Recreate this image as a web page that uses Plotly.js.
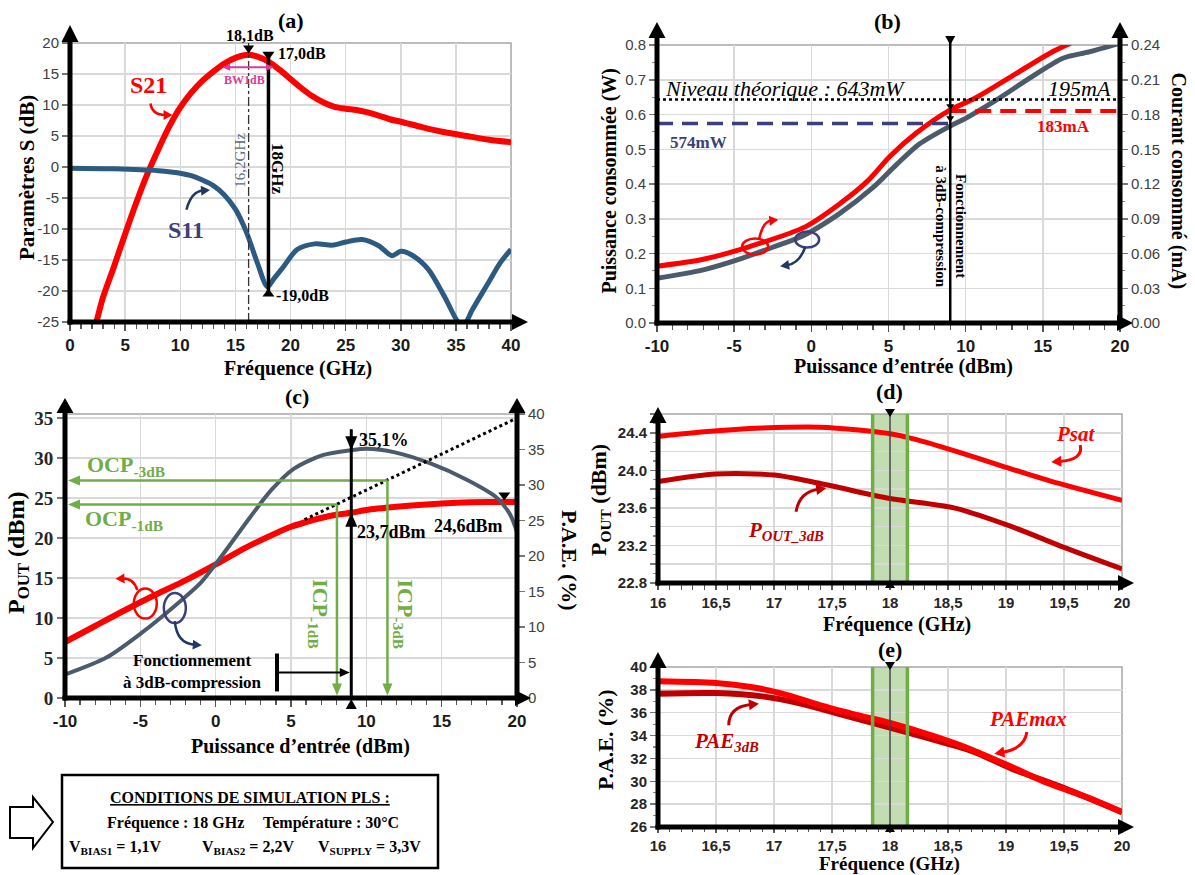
<!DOCTYPE html>
<html lang="fr"><head><meta charset="utf-8">
<script src="https://cdn.plot.ly/plotly-3.0.1.min.js"></script>
<style>html,body{margin:0;padding:0;background:#fff;}#chart{width:1195px;height:875px;}</style>
</head><body><div id="chart"></div>
<script>
// ================= DATA =================
// (a) S-parameters vs frequency (GHz)
const freqS21 = [2.4,3,4,5,6,7,8,9,10,11,12,13,14,15,16.2,17,18,19,20,21,22,23,24,25,26,27,28,29,30,32,34,36,38,40];
const s21dB   = [-25,-21,-16,-10.8,-5.8,-1.2,2.8,6.5,9.6,12,13.9,15.4,16.7,17.6,18.1,17.8,17.0,15.7,14.2,12.7,11.4,10.4,9.7,9.4,9.2,8.8,8.3,7.7,7.3,6.4,5.6,5.0,4.4,4.0];
const freqS11 = [0,4,8,10,11,12,13,14,15,16,17,17.9,18.5,19.4,20.6,22.2,23.8,25,26.5,28,29.2,30,31,32.5,34,35.3,35.8,36.5,38,39,40];
const s11dB   = [-0.2,-0.3,-0.6,-1.0,-1.4,-2.1,-3.0,-4.5,-6.8,-10.5,-15.5,-19.3,-18.0,-16.0,-13.3,-12.4,-12.6,-12.1,-11.7,-12.7,-14.3,-13.6,-14.2,-16.5,-21.0,-25.2,-25.3,-23,-18.5,-15.5,-13.3];
const peakA = [16.2, 18.1];      // [GHz, dB]
const opA   = [18, 17.0, -19.0]; // [GHz, S21 dB, S11 dB]
const bwA   = [13.8, 18.5, 16.1];// [low GHz, high GHz, level dB]

// (b) consumption vs input power (dBm)
const pinPower  = [-10,-7,-4.5,-2.5,-0.5,1.8,4,5.5,7,9,10,12,14.3,16.3,18,20];
const powerW    = [0.129,0.153,0.186,0.218,0.252,0.314,0.39,0.455,0.515,0.567,0.589,0.642,0.709,0.762,0.78,0.805];
const pinCurrent= [-10,-7,-4,-0.4,1.9,3.6,5.1,6.8,9,10.6,13.1,15.6,16.8];
const currentA  = [0.049,0.055,0.066,0.083,0.1035,0.122,0.144,0.164,0.184,0.194,0.214,0.234,0.2415];
const levelsB   = [0.643, 0.574, 0.183, 9]; // theoretical W, W at 3dB, A at 3dB, Pin at 3dB

// (c) Pout and PAE vs input power (dBm)
const pinPout = [-10,-8,-6,-4,-2,0,2,4,5,6,7,8,9,10,12,14,16,18,20];
const poutDbm = [7.0,9.0,11.0,12.9,14.7,16.7,18.8,20.6,21.4,22.0,22.5,22.9,23.15,23.5,23.9,24.2,24.4,24.5,24.5];
const pinPae  = [-10,-7.25,-4.9,-2.7,-1,0.4,2.3,3.7,5.2,7.1,9,10,11.9,14.3,16.7,18.6,19.5,20];
const paePct  = [3.3,5.7,9.2,13.0,16.2,20.0,25.5,29.3,32.3,34.2,34.9,35.1,34.6,33.0,30.7,28.3,26.0,23.4];
const linExtrap = [5.9, 22.3, 20, 35.0];   // dotted linear extrapolation (x0,y0,x1,y1)
const cp1dB = [8.05, 24.2];                // ICP-1dB, OCP-1dB
const cp3dB = [11.4, 27.2];                // ICP-3dB, OCP-3dB
const opC   = [9, 34.9, 23.15];            // Pin, PAE %, Pout dBm

// (d) Pout vs frequency
const freqPsat = [16,16.4,16.9,17.4,17.73,18,18.22,18.55,18.98,19.37,20];
const psatDbm  = [24.36,24.41,24.45,24.46,24.43,24.39,24.33,24.21,24.04,23.89,23.68];
const freqP3   = [16,16.5,17,17.4,18,18.55,19.05,19.5,20];
const pout3Dbm = [23.88,23.96,23.95,23.86,23.70,23.60,23.40,23.18,22.95];
// (e) PAE vs frequency
const freqPaeMax = [16,16.5,16.8,17.07,17.4,17.73,18,18.39,18.72,19.05,19.37,19.7,20];
const paeMaxPct  = [38.75,38.6,38.25,37.67,36.65,35.77,35.1,33.9,32.7,31.25,29.8,28.6,27.3];
const freqPae3   = [16,16.5,16.9,17.23,17.56,18,18.39,18.72,19.05,19.5,20];
const pae3Pct    = [37.67,37.72,37.43,36.8,35.9,34.7,33.6,32.6,31.1,29.4,27.3];
const bandGHz    = [17.85, 18.15, 18];

// tick labels
const sTickVals   = [-25,-20,-15,-10,-5,0,5,10,15,20];
const sTickText   = ['-25','-20','-15','-10','-5','0','5','10','15','20'];
const pinTickVals = [-10,-5,0,5,10,15,20];
const pinTickText = ['-10','-5','0','5','10','15','20'];
const freqTickVals = [16,16.5,17,17.5,18,18.5,19,19.5,20];
const freqTickText = ['16','16,5','17','17,5','18','18,5','19','19,5','20'];
const poutTickVals = [22.8,23.0,23.2,23.4,23.6,23.8,24.0,24.2,24.4,24.6];
const poutTickText = ['22.8',' ','23.2',' ','23.6',' ','24.0',' ','24.4',' '];

// ================= STYLE / GEOMETRY =================
const SERIF='"Liberation Serif","Times New Roman",serif';
const SANS='"Liberation Sans",Arial,sans-serif';
const RED='#ff0000', DRED='#c00000', NAVY='#3b3f7a', DNAVY='#1f3864', SLATE='#4b5b6c', STEEL='#2c5a80', GREEN='#70ad47', MAG='#e2389b';
const GRID='#d9d9d9', FRAME='#a6a6a6';
const W=1195,H=875;
const PX=x=>x/W, PY=y=>1-y/H;
const G={
 a:{x0:70,x1:511,yb:322,yt:43,xr:[0,40],yr:[-25,20]},
 b:{x0:657,x1:1120,yb:323,yt:45,xr:[-10,20],yr:[0,0.8],yr2:[0,0.24]},
 c:{x0:65,x1:517,yb:698,yt:414,xr:[-10,20],yr:[0,35.5],yr2:[0,40]},
 d:{x0:658,x1:1122,yb:583,yt:414,xr:[16,20],yr:[22.8,24.6]},
 e:{x0:658,x1:1122,yb:827,yt:667,xr:[16,20],yr:[26,40]}
};
const fx=(g,v)=>g.x0+(v-g.xr[0])/(g.xr[1]-g.xr[0])*(g.x1-g.x0);
const fy=(g,v,r)=>{r=r||g.yr;return g.yb-(v-r[0])/(r[1]-r[0])*(g.yb-g.yt);};
const S=[],A=[];
function line(x0,y0,x1,y1,color,width,dash){S.push({type:'line',xref:'paper',yref:'paper',x0:PX(x0),y0:PY(y0),x1:PX(x1),y1:PY(y1),line:{color:color,width:width,dash:dash||'solid'}});}
function poly(pts,fill,lc,lw){S.push({type:'path',xref:'paper',yref:'paper',path:'M '+pts.map(p=>PX(p[0]).toFixed(5)+','+PY(p[1]).toFixed(5)).join(' L ')+' Z',fillcolor:fill,line:{color:lc||fill,width:lw||0}});}
function head(tx,ty,ux,uy,len,hw,color){const bx=tx-ux*len,by=ty-uy*len,nx=-uy,ny=ux;poly([[tx,ty],[bx+nx*hw,by+ny*hw],[bx-nx*hw,by-ny*hw]],color);}
function arrow(x0,y0,x1,y1,color,width,len,hw){const d=Math.hypot(x1-x0,y1-y0),ux=(x1-x0)/d,uy=(y1-y0)/d;line(x0,y0,x1-ux*len*0.8,y1-uy*len*0.8,color,width);head(x1,y1,ux,uy,len,hw,color);}
function curve(x0,y0,cx,cy,x1,y1,color,width,len,hw){const d=Math.hypot(x1-cx,y1-cy),ux=(x1-cx)/d,uy=(y1-cy)/d;const ex=x1-ux*len*0.8,ey=y1-uy*len*0.8;S.push({type:'path',xref:'paper',yref:'paper',path:'M '+PX(x0).toFixed(5)+','+PY(y0).toFixed(5)+' Q '+PX(cx).toFixed(5)+','+PY(cy).toFixed(5)+' '+PX(ex).toFixed(5)+','+PY(ey).toFixed(5),line:{color:color,width:width}});head(x1,y1,ux,uy,len,hw,color);}
function ellipse(cx,cy,rx,ry,color,width){S.push({type:'circle',xref:'paper',yref:'paper',x0:PX(cx-rx),x1:PX(cx+rx),y0:PY(cy+ry),y1:PY(cy-ry),line:{color:color,width:width}});}
function txt(x,y,text,font,extra){A.push(Object.assign({xref:'paper',yref:'paper',x:PX(x),y:PY(y),text:text,showarrow:false,xanchor:'center',yanchor:'middle',font:font},extra||{}));}
const F=(size,color,weight,family,style)=>({size:size,color:color||'#000',weight:weight||'bold',family:family||SERIF,style:style||'normal'});
function frame(g){S.push({type:'rect',xref:'paper',yref:'paper',x0:PX(g.x0),x1:PX(g.x1),y0:PY(g.yb),y1:PY(g.yt),line:{color:FRAME,width:1.5},layer:'below'});}
function yAxisLine(x,g,tip,base){const top=Math.min(base,g.yt);line(x,g.yb+2.5,x,top,'#000',5);head(x,tip,0,-1,base-tip,8.5,'#000');}
function xAxisLine(g,tip){line(g.x0-2.5,g.yb,tip-15,g.yb,'#000',5);head(tip,g.yb,1,0,16,8,'#000');}
function band(g){const X=v=>fx(g,v);
 S.push({type:'rect',xref:'paper',yref:'paper',x0:PX(X(bandGHz[0])),x1:PX(X(bandGHz[1])),y0:PY(g.yb),y1:PY(g.yt),fillcolor:'rgba(112,173,71,0.42)',line:{width:0},layer:'below'});
 line(X(bandGHz[0]),g.yt,X(bandGHz[0]),g.yb,GREEN,3.5);
 line(X(bandGHz[1]),g.yt,X(bandGHz[1]),g.yb,GREEN,3.5);
 line(X(bandGHz[2]),g.yt,X(bandGHz[2]),g.yb,'#444',1.5);
 head(X(bandGHz[2]),g.yt+3,0,1,8,5,'#000');
 head(X(bandGHz[2]),g.yb-3,0,-1,8,5,'#000');
}

// ---------- (a) ----------
{const g=G.a,X=v=>fx(g,v),Y=v=>fy(g,v);
 frame(g);
 line(X(peakA[0]),g.yt,X(peakA[0]),g.yb,'#333',1.3,'dashdot');
 line(X(opA[0]),Y(18.0),X(opA[0]),Y(-20.6),'#000',3.5);
 head(X(opA[0]),Y(17.2),0,1,8.5,6,'#000');
 head(X(opA[0]),Y(-19.6),0,-1,8,6,'#000');
 head(X(peakA[0]),Y(18.3),0,1,8,5.5,'#000');
 line(X(bwA[0])+6,Y(bwA[2]),X(bwA[1])-6,Y(bwA[2]),MAG,2);
 head(X(bwA[0]),Y(bwA[2]),-1,0,8,3.5,MAG); head(X(bwA[1]),Y(bwA[2]),1,0,8,3.5,MAG);
 txt(X(16.3),Y(21.2),'18,1dB',F(16));
 txt(X(21.0),Y(18.3),'17,0dB',F(16));
 txt(X(21.1),Y(-20.8),'-19,0dB',F(16));
 txt(X(18.8),Y(-0.2),'18GHz',F(17),{textangle:90});
 txt(X(15.4),Y(1.15),'16,2GHz',F(15,'#5b6b85','normal'),{textangle:-90});
 txt(X(15.8),Y(14.1),'BW1dB',F(12,MAG));
 txt(X(7.1),Y(13.2),'S21',F(24,RED));
 curve(X(7.3),Y(10.25),X(7.45),Y(8.4),X(9.3),Y(8.4),RED,2.5,9,5);
 txt(X(10.56),Y(-10.1),'S11',F(24,NAVY));
 curve(X(10.56),Y(-6.9),X(11.0),Y(-3.94),X(12.7),Y(-3.7),DNAVY,2.5,9,5);
 txt(27,178,'Paramètres S (dB)',F(21),{textangle:-90});
 txt(X(20.65),368,'Fréquence (GHz)',F(20));
 txt(X(20),20,'(a)',F(22));
}
// ---------- (b) ----------
{const g=G.b,X=v=>fx(g,v),Y=v=>fy(g,v),Y2=v=>fy(g,v,g.yr2);
 frame(g);
 line(X(-10),Y(levelsB[0]),X(20),Y(levelsB[0]),'#000',2.5,'dot');
 line(X(-10),Y(levelsB[1]),X(levelsB[3]),Y(levelsB[1]),NAVY,3.5,'16px,9px');
 line(X(levelsB[3]),Y2(levelsB[2]),X(20),Y2(levelsB[2]),RED,4,'16px,9px');
 line(X(levelsB[3]),g.yb,X(levelsB[3]),37,'#000',2.5);
 head(X(levelsB[3]),45,0,1,9,5,'#000');
 head(X(levelsB[3]),Y(0.612),0,1,6,4,'#000');
 head(X(levelsB[3]),Y(0.578),0,1,6,4,'#000');
 txt(X(-9.6),Y(0.675),'Niveau théorique : 643mW',F(22,'#000','normal',SERIF,'italic'),{xanchor:'left'});
 txt(X(19.55),Y(0.675),'195mA',F(22,'#000','normal',SERIF,'italic'),{xanchor:'right'});
 txt(X(-7.3),Y(0.519),'574mW',F(17,NAVY));
 txt(X(16.36),Y(0.565),'183mA',F(17,RED));
 txt(X(levelsB[3]),Y(0.278),'Fonctionnement<br>à 3dB-compression',F(15),{textangle:90});
 ellipse(X(-3.64),Y(0.22),13,8,RED,2.5);
 curve(X(-3.39),Y(0.241),X(-3.14),Y(0.292),X(-2.14),Y(0.297),RED,2.5,9,5);
 ellipse(X(-0.27),Y(0.24),12,8,NAVY,2.5);
 curve(X(-0.4),Y(0.218),X(-0.77),Y(0.172),X(-2.02),Y(0.163),DNAVY,2.5,9,5);
 txt(610,Y(0.41),'Puissance consommée (W)',F(20),{textangle:-90});
 txt(1178,Y(0.41),'Courant consommé (mA)',F(20),{textangle:90});
 txt(X(5.96),366,'Puissance d’entrée (dBm)',F(20));
 txt(X(4.96),22,'(b)',F(22));
}
// ---------- (c) ----------
{const g=G.c,X=v=>fx(g,v),Y=v=>fy(g,v),Y2=v=>fy(g,v,g.yr2);
 frame(g);
 line(X(linExtrap[0]),Y(linExtrap[1]),X(linExtrap[2]),Y(linExtrap[3]),'#000',3,'dot');
 arrow(X(cp1dB[0]),Y(cp1dB[1]),X(-9.8),Y(cp1dB[1]),GREEN,2.5,12,5);
 arrow(X(cp1dB[0]),Y(cp1dB[1]),X(cp1dB[0]),Y(0.3),GREEN,2.5,12,5);
 arrow(X(cp3dB[0]),Y(cp3dB[1]),X(-9.8),Y(cp3dB[1]),GREEN,2.5,12,5);
 arrow(X(cp3dB[0]),Y(cp3dB[1]),X(cp3dB[0]),Y(0.3),GREEN,2.5,12,5);
 line(X(opC[0]),Y(33.6),X(opC[0]),g.yb,'#000',3);
 head(X(opC[0]),Y2(opC[1]),0,1,14,6,'#000');
 head(X(opC[0]),Y(opC[2]),0,-1,14,6,'#000');
 head(X(opC[0]),g.yb+1,0,-1,10,5.5,'#000');
 head(X(19.16),Y(24.7),0,1,8,6,'#000');
 line(X(4.07),Y(0.82),X(4.07),Y(5.56),'#000',4);
 arrow(X(4.07),Y(3.2),X(8.9),Y(3.2),'#000',2,10,4.5);
 txt(X(-5.94),Y(29.0),'OCP<sub>-3dB</sub>',F(22,GREEN));
 txt(X(-6.06),Y(22.2),'OCP<sub>-1dB</sub>',F(22,GREEN));
 txt(X(6.85),Y(10.5),'ICP<sub>-1dB</sub>',F(22,GREEN),{textangle:90});
 txt(X(12.47),Y(10.5),'ICP<sub>-3dB</sub>',F(22,GREEN),{textangle:90});
 txt(X(11.16),Y(32.2),'35,1%',F(18));
 txt(X(11.68),Y(20.7),'23,7dBm',F(18));
 txt(X(16.77),Y(21.5),'24,6dBm',F(18));
 txt(X(-1.51),Y(3.3),'Fonctionnement<br>à 3dB-compression',F(17));
 ellipse(X(-4.67),Y(11.8),11.5,15,RED,2.5);
 curve(X(-5.2),Y(13.5),X(-5.46),Y(15.0),X(-6.65),Y(14.9),RED,2.5,9,5);
 ellipse(X(-2.71),Y(11.24),11,15,NAVY,2.5);
 curve(X(-2.71),Y(9.6),X(-2.59),Y(6.8),X(-0.92),Y(6.6),DNAVY,2.5,9,5);
 txt(18,553,'P<sub>OUT</sub> (dBm)',F(24),{textangle:-90});
 txt(570,560,'P.A.E. (%)',F(22),{textangle:90});
 txt(300,746,'Puissance d’entrée (dBm)',F(20));
 txt(297,396,'(c)',F(22));
}
// ---------- (d) ----------
{const g=G.d,X=v=>fx(g,v),Y=v=>fy(g,v);
 frame(g); band(g);
 txt(X(19.6),Y(24.39),'Psat',F(21,RED,'bold',SERIF,'italic'));
 curve(X(19.64),Y(24.27),X(19.67),Y(24.11),X(19.39),Y(24.09),RED,3,10,5.5);
 txt(X(17.1),Y(23.35),'P<sub>OUT_3dB</sub>',F(21,DRED,'bold',SERIF,'italic'));
 curve(X(17.19),Y(23.56),X(17.22),Y(23.77),X(17.45),Y(23.81),DRED,3,10,5.5);
 txt(600,500,'P<sub>OUT</sub> (dBm)',F(22),{textangle:-90});
 txt(X(18.06),624,'Fréquence (GHz)',F(20));
 txt(X(18),392,'(d)',F(22));
}
// ---------- (e) ----------
{const g=G.e,X=v=>fx(g,v),Y=v=>fy(g,v);
 frame(g); band(g);
 txt(X(19.19),Y(35.48),'PAEmax',F(21,RED,'bold',SERIF,'italic'));
 curve(X(19.18),Y(34.31),X(19.16),Y(32.85),X(18.9),Y(32.42),RED,3,10,5.5);
 txt(X(16.59),Y(33.44),'PAE<sub>3dB</sub>',F(21,DRED,'bold',SERIF,'italic'));
 curve(X(16.61),Y(34.9),X(16.61),Y(36.5),X(16.87),Y(36.79),DRED,3,10,5.5);
 txt(605,740,'P.A.E. (%)',F(22),{textangle:-90});
 txt(X(18),864,'Fréquence (GHz)',F(19));
 txt(X(18),649,'(e)',F(22));
}
// axis lines with arrows (drawn after so they sit on top)
yAxisLine(G.a.x0,G.a,25,42); xAxisLine(G.a,528);
yAxisLine(G.b.x0,G.b,22,38); yAxisLine(G.b.x1,G.b,22,38); xAxisLine(G.b,1133);
yAxisLine(G.c.x0,G.c,398,413); yAxisLine(G.c.x1,G.c,398,413); xAxisLine(G.c,531);
yAxisLine(G.d.x0,G.d,407,423); xAxisLine(G.d,1134);
yAxisLine(G.e.x0,G.e,652,668); xAxisLine(G.e,1134);

// ---------- conditions box ----------
S.push({type:'rect',xref:'paper',yref:'paper',x0:PX(62),x1:PX(438),y0:PY(868),y1:PY(775),line:{color:'#000',width:2.5}});
poly([[10,807],[33,807],[33,797],[53,822],[33,848],[33,838],[10,838]],'#fff','#000',2);
txt(250,797,'<u>CONDITIONS DE SIMULATION PLS :</u>',F(16));
txt(175,823,'Fréquence : 18 GHz',F(16));
txt(331,823,'Température : 30°C',F(16));
txt(115,847,'V<sub>BIAS1</sub> = 1,1V',F(16));
txt(248,847,'V<sub>BIAS2</sub> = 2,2V',F(16));
txt(370,847,'V<sub>SUPPLY</sub> = 3,3V',F(16));

// ================= AXES =================
const dx=g=>[g.x0/W,g.x1/W], dy=g=>[1-g.yb/H,1-g.yt/H];
const TF_X={family:SANS,size:17,color:'#1a1a1a',weight:'bold'};
const TF_F={family:SANS,size:15,color:'#262626',weight:'bold'};
function xax(g,anchor,extra){return Object.assign({domain:dx(g),range:g.xr,anchor:anchor,showgrid:true,gridcolor:GRID,gridwidth:1.5,zeroline:false,showline:false,ticks:'outside',ticklen:8,tickwidth:1.5,tickcolor:'#555',tickfont:TF_X,fixedrange:true},extra);}
function yax(g,anchor,extra){return Object.assign({domain:dy(g),range:g.yr,anchor:anchor,showgrid:true,gridcolor:GRID,gridwidth:1.5,zeroline:false,showline:false,ticks:'outside',ticklen:7,tickwidth:1.5,tickcolor:'#777',tickfont:{family:SANS,size:15,color:'#404040'},fixedrange:true},extra);}
function yaxR(g,anchor,over,extra){return Object.assign({domain:dy(g),range:g.yr2,anchor:anchor,overlaying:over,side:'right',showgrid:false,zeroline:false,showline:false,ticks:'outside',ticklen:7,tickwidth:1.5,tickcolor:'#777',tickfont:{family:SANS,size:15,color:'#404040'},fixedrange:true},extra);}
const minorX=(d,t0)=>({tickmode:'linear',tick0:t0,dtick:d,ticks:'outside',ticklen:6,tickwidth:1.2,tickcolor:'#555',showgrid:false});
const minorY=(d,t0)=>({tickmode:'linear',tick0:t0,dtick:d,ticks:'outside',ticklen:4,tickwidth:1.2,tickcolor:'#888',showgrid:false});

const layout={width:W,height:H,margin:{l:0,r:0,t:0,b:0},paper_bgcolor:'#fff',plot_bgcolor:'rgba(0,0,0,0)',showlegend:false,hovermode:false,
 xaxis: xax(G.a,'y',{tick0:0,dtick:5,minor:minorX(1,0)}),
 yaxis: yax(G.a,'x',{tickmode:'array',tickvals:sTickVals,ticktext:sTickText}),
 xaxis2: xax(G.b,'y2',{tickmode:'array',tickvals:pinTickVals,ticktext:pinTickText,minor:minorX(1,-10)}),
 yaxis2: yax(G.b,'x2',{tick0:0,dtick:0.1,tickformat:'.1f',minor:minorY(0.05,0)}),
 yaxis3: yaxR(G.b,'x2','y2',{tick0:0,dtick:0.03,tickformat:'.2f',minor:minorY(0.015,0)}),
 xaxis3: xax(G.c,'y4',{tickmode:'array',tickvals:pinTickVals,ticktext:pinTickText,minor:minorX(1,-10)}),
 yaxis4: yax(G.c,'x3',{tick0:0,dtick:5,tickfont:{family:SERIF,size:19,color:'#262626',weight:'bold'}}),
 yaxis5: yaxR(G.c,'x3','y4',{tick0:0,dtick:5}),
 xaxis4: xax(G.d,'y6',{tickmode:'array',tickvals:freqTickVals,ticktext:freqTickText,ticklen:6,tickfont:TF_F,minor:minorX(0.1,16)}),
 yaxis6: yax(G.d,'x4',{tickmode:'array',tickvals:poutTickVals,ticktext:poutTickText,tickfont:TF_F,minor:minorY(0.1,22.8)}),
 xaxis5: xax(G.e,'y7',{tickmode:'array',tickvals:freqTickVals,ticktext:freqTickText,ticklen:5,tickfont:TF_F,minor:Object.assign(minorX(0.1,16),{ticklen:4})}),
 yaxis7: yax(G.e,'x5',{tick0:26,dtick:2,tickfont:TF_F,minor:minorY(1,26)}),
 shapes:S, annotations:A
};

const sp={shape:'spline',smoothing:0.8};
const traces=[
 {x:freqS21,y:s21dB,xaxis:'x',yaxis:'y',mode:'lines',line:Object.assign({color:RED,width:6},sp)},
 {x:freqS11,y:s11dB,xaxis:'x',yaxis:'y',mode:'lines',line:Object.assign({color:STEEL,width:5},sp)},
 {x:pinPower,y:powerW,xaxis:'x2',yaxis:'y2',mode:'lines',line:Object.assign({color:SLATE,width:5},sp)},
 {x:pinCurrent,y:currentA,xaxis:'x2',yaxis:'y3',mode:'lines',line:Object.assign({color:RED,width:5},sp)},
 {x:pinPout,y:poutDbm,xaxis:'x3',yaxis:'y4',mode:'lines',line:Object.assign({color:RED,width:6},sp)},
 {x:pinPae,y:paePct,xaxis:'x3',yaxis:'y5',mode:'lines',line:Object.assign({color:SLATE,width:4},sp)},
 {x:freqPsat,y:psatDbm,xaxis:'x4',yaxis:'y6',mode:'lines',line:Object.assign({color:RED,width:5},sp)},
 {x:freqP3,y:pout3Dbm,xaxis:'x4',yaxis:'y6',mode:'lines',line:Object.assign({color:DRED,width:5},sp)},
 {x:freqPae3,y:pae3Pct,xaxis:'x5',yaxis:'y7',mode:'lines',line:Object.assign({color:DRED,width:6},sp)},
 {x:freqPaeMax,y:paeMaxPct,xaxis:'x5',yaxis:'y7',mode:'lines',line:Object.assign({color:RED,width:6},sp)}
];
Plotly.newPlot('chart',traces,layout,{staticPlot:true,displayModeBar:false});
</script></body></html>
